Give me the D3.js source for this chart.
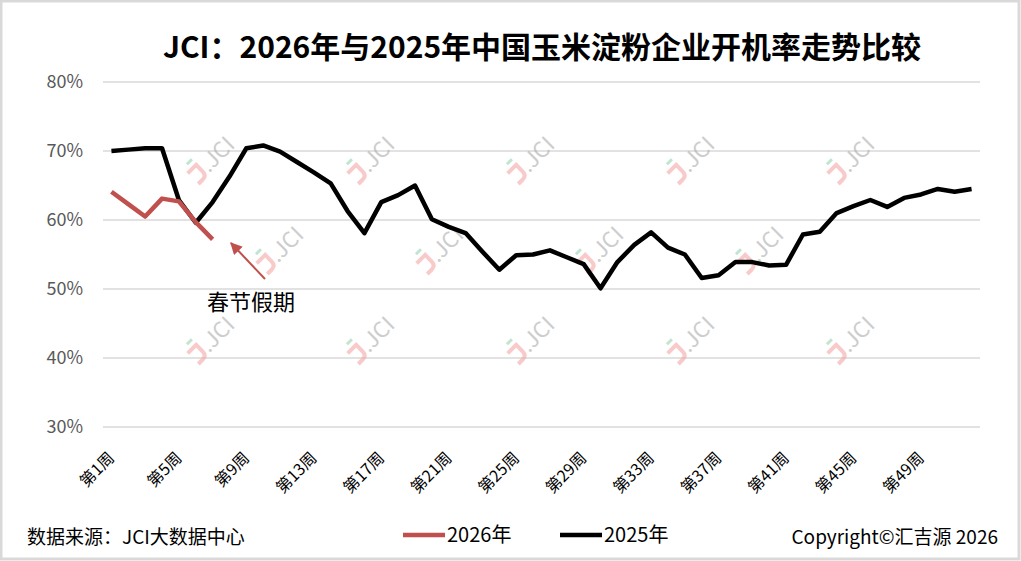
<!DOCTYPE html>
<html>
<head>
<meta charset="utf-8">
<script src="https://cdn.jsdelivr.net/npm/d3@7"></script>
<style>
  html, body { margin: 0; padding: 0; background: #fff; }
  svg { display: block; }
  text { font-family: "Noto Sans CJK SC", "Noto Sans", sans-serif; }
</style>
</head>
<body>
<svg width="1021" height="561"></svg>
<script>
// week labels 第1周 .. 第52周
let weeks = d3.range(1, 53).map(d => "第" + d + "周");

// 2025 utilisation rate (%)
let rate2025 = [
  70.0, 70.2, 70.4, 70.4, 62.9, 59.6, 62.6, 66.3, 70.4, 70.8,
  69.9, 68.4, 66.9, 65.3, 61.3, 58.1, 62.6, 63.6, 65.0, 60.1,
  59.0, 58.1, 55.4, 52.8, 54.9, 55.0, 55.6, 54.6, 53.6, 50.1,
  53.9, 56.4, 58.2, 56.0, 55.0, 51.6, 52.0, 53.9, 53.9, 53.4,
  53.5, 57.9, 58.3, 61.0, 62.0, 62.9, 61.9, 63.2, 63.7, 64.5,
  64.1, 64.5
];

// 2026 so far
let rate2026 = [64.1, 62.3, 60.5, 63.1, 62.7, 59.7, 57.2];

let yTicks = [0.3, 0.4, 0.5, 0.6, 0.7, 0.8];

let red = "#c0504d";
let svg = d3.select("svg");

// outer frame
svg.append("rect")
  .attr("x", 1).attr("y", 1)
  .attr("width", 1018).attr("height", 558)
  .attr("fill", "#fff")
  .attr("stroke", "#d9d9d9")
  .attr("stroke-width", 3);

let x = d3.scaleBand().domain(weeks).range([103, 980]);
let cx = d => x(d) + x.bandwidth() / 2;
let y = d3.scaleLinear().domain([0.3, 0.8]).range([427, 82]);

// grid
svg.append("g")
  .selectAll("line")
  .data(yTicks)
  .enter()
  .append("line")
  .attr("x1", 103)
  .attr("x2", 980)
  .attr("y1", d => y(d))
  .attr("y2", d => y(d))
  .attr("stroke", "#d9d9d9")
  .attr("stroke-width", 1.5);

// y labels
svg.append("g")
  .selectAll("text")
  .data(yTicks)
  .enter()
  .append("text")
  .text(d => d3.format(".0%")(d))
  .attr("x", 83)
  .attr("y", d => y(d))
  .attr("dy", "0.35em")
  .attr("text-anchor", "end")
  .attr("font-size", 18)
  .attr("fill", "#595959");

// x labels, every 4th week
svg.append("g")
  .selectAll("text")
  .data(weeks.filter((d, i) => i % 4 == 0))
  .enter()
  .append("text")
  .text(d => d)
  .attr("transform", d => "translate(" + (cx(d) + 4) + ",459) rotate(-45)")
  .attr("text-anchor", "end")
  .attr("font-size", 16)
  .attr("fill", "#000");

// watermarks
let marks = [];
for (let r = 0; r < 3; r++) {
  let n = r == 1 ? 4 : 5;
  let x0 = r == 1 ? 268 : 199;
  for (let k = 0; k < n; k++) marks.push([x0 + 160 * k, 172 + 90 * r]);
}
let wm = svg.append("g")
  .selectAll("g")
  .data(marks)
  .enter()
  .append("g")
  .attr("transform", d => "translate(" + d[0] + "," + d[1] + ") rotate(-45)")
  .attr("opacity", 0.55);
wm.append("path")
  .attr("d", "M-9,-7 L3,-7 L3,2 Q3,8 -3,8 L-9,8")
  .attr("fill", "none")
  .attr("stroke", "#f4a0a0")
  .attr("stroke-width", 4);
wm.append("line")
  .attr("x1", -3).attr("y1", -14)
  .attr("x2", 4).attr("y2", -14)
  .attr("stroke", "#8fd0ac")
  .attr("stroke-width", 3);
wm.append("text")
  .text(".JCI")
  .attr("x", 6)
  .attr("y", 8)
  .attr("font-size", 22)
  .attr("font-family", "Liberation Sans, sans-serif")
  .attr("fill", "#a6a6a6");

// lines
let line = d3.line()
  .x((d, i) => cx(weeks[i]))
  .y(d => y(d / 100));

svg.append("path")
  .attr("d", line(rate2025))
  .attr("fill", "none")
  .attr("stroke", "#000")
  .attr("stroke-width", 4.5)
  .attr("stroke-linejoin", "round");

svg.append("path")
  .attr("d", line(rate2026))
  .attr("fill", "none")
  .attr("stroke", red)
  .attr("stroke-width", 4.5)
  .attr("stroke-linejoin", "round");

// annotation
svg.append("defs")
  .append("marker")
  .attr("id", "arr")
  .attr("viewBox", "0 0 10 10")
  .attr("refX", 9).attr("refY", 5)
  .attr("markerWidth", 6).attr("markerHeight", 6)
  .attr("orient", "auto")
  .append("path")
  .attr("d", "M0,0 L10,5 L0,10 Z")
  .attr("fill", red);

svg.append("line")
  .attr("x1", 265).attr("y1", 279)
  .attr("x2", 231).attr("y2", 243)
  .attr("stroke", red)
  .attr("stroke-width", 2)
  .attr("marker-end", "url(#arr)");

svg.append("text")
  .text("春节假期")
  .attr("x", 251)
  .attr("y", 310)
  .attr("text-anchor", "middle")
  .attr("font-size", 22)
  .attr("fill", "#000");

// title
svg.append("text")
  .text("JCI：2026年与2025年中国玉米淀粉企业开机率走势比较")
  .attr("x", 542)
  .attr("y", 58)
  .attr("text-anchor", "middle")
  .attr("font-size", 30)
  .attr("font-weight", "bold")
  .attr("fill", "#000");

// legend
let legend = [["2026年", red, 403], ["2025年", "#000", 560]];
let lg = svg.append("g")
  .selectAll("g")
  .data(legend)
  .enter()
  .append("g");
lg.append("line")
  .attr("x1", d => d[2]).attr("x2", d => d[2] + 42)
  .attr("y1", 535).attr("y2", 535)
  .attr("stroke", d => d[1])
  .attr("stroke-width", 4.5);
lg.append("text")
  .text(d => d[0])
  .attr("x", d => d[2] + 44)
  .attr("y", 542)
  .attr("font-size", 20)
  .attr("fill", "#000");

// footer
svg.append("text")
  .text("数据来源：JCI大数据中心")
  .attr("x", 27)
  .attr("y", 544)
  .attr("font-size", 19)
  .attr("fill", "#000");

svg.append("text")
  .text("Copyright©汇吉源 2026")
  .attr("x", 998)
  .attr("y", 544)
  .attr("text-anchor", "end")
  .attr("font-size", 19)
  .attr("fill", "#000");
</script>
</body>
</html>
